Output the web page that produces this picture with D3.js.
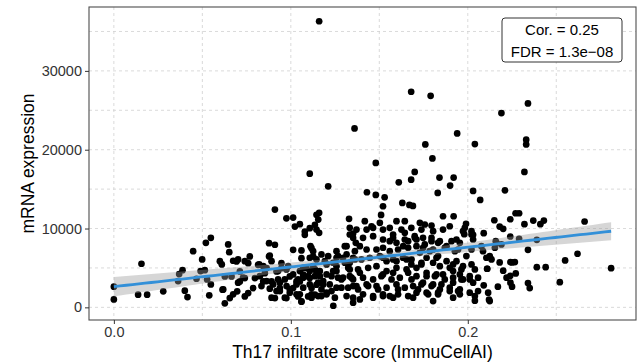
<!DOCTYPE html>
<html><head><meta charset="utf-8">
<script src="https://cdn.jsdelivr.net/npm/d3@7"></script>
<style>body{margin:0;background:#fff}</style>
</head><body><svg id="c" width="640" height="364"></svg>
<script>
// Th17 infiltrate score (ImmuCellAI)
const scoreX = [0.116,0.1107,0.168,0.179,0.234,0.219,0.136,0.194,0.176,0.204,0.233,0.233,0.148,0.180,0.170,0.168,0.161,0.184,0.192,0.232,
0.190,0.221,0.143,0.148,0.153,0.183,0.203,0.207,0.163,0.167,0.169,0.151,0.186,0.192,0.215,0.224,0.227,0.229,0.232,0.237,
0.241,0.243,0.266,0.218,0.220,0.209,0.199,0.198,0.203,0.224,0.229,0.239,0.234,0.255,0.262,0.281,0.239,0.244,0.252,0.234,
0.235,0.225,0.220,0.224,0.225,0.217,0.218,0.212,0.204,0.209,0.211,0.124,
0.0,0.0,0.0156,0.0137,0.0188,0.0279,0.0388,0.0369,0.0363,0.0401,0.0416,0.0448,0.0499,0.052,0.0548,0.049,0.0514,0.0539,0.0548,0.0599,
0.061,0.0618,0.0646,0.0652,0.0627,0.0527,0.0467,
0.0655,0.0614,0.0697,0.0674,0.0693,0.0712,0.074,0.074,0.0759,0.0768,0.0759,0.0712,0.0665,0.0627,0.0787,0.0815,0.0797,0.0844,0.0853,0.0863,
0.0877,0.091,0.091,0.0877,0.0891,0.0881,0.091,0.0938,0.0919,0.0947,0.0947,0.0975,0.1013,0.0975,0.1013,0.0994,0.1013,0.1032,0.1041,0.106,
0.1023,0.1051,0.1079,0.1079,0.1107,0.1145,0.1136,0.106,0.1088,0.1117,0.1126,0.1107,0.1117,0.1136,0.1098,0.1145,0.1145,0.1051,0.107,
0.1211,0.116,0.1155,0.1145,0.116,0.1329,0.1333,0.1352,0.1367,0.0881,0.0891,0.1111,0.1126,0.1107,0.1145,0.1173,0.1192,0.1258,0.1267,0.1305,
0.1315,0.1362,0.0702,0.074,0.0821,0.0825,0.073,0.0702,0.0674,0.0928,0.0938,0.0966,0.0994,0.1051,0.1041,0.1098,0.1136,0.1164,0.1183,0.1202,
0.1173,0.1117,0.1249,0.123,0.1258,0.1286,0.1286,0.1315,0.1333,0.1343,0.1352,0.1352,0.1362,0.1305,0.1239,0.107,0.0975,
0.1521,0.1418,0.1428,0.1503,0.1521,0.1597,0.1644,0.1681,0.1729,0.1757,0.1795,0.1738,0.1804,0.186,0.1898,0.1983,0.2021,0.1578,0.1644,0.17,
0.1559,0.1597,0.1635,0.1663,0.171,0.1757,0.1795,0.1832,0.188,0.1936,0.1729,0.1785,0.1832,0.1927,0.1936,0.1992,0.2021,0.2086,0.2153,0.1333,
0.139,0.1428,0.1484,0.1521,0.1559,0.1333,0.1446,0.1503,0.1541,0.1597,0.1654,0.1681,0.1738,0.1804,0.1842,0.1898,0.1964,0.2040,0.2134,0.2162,
0.1333,0.139,0.1465,0.1521,0.1578,0.1616,0.1663,0.171,0.1767,0.1823,0.187,0.1917,0.1964,0.2011,0.1371,0.1428,0.1484,0.1541,0.1597,0.1644,
0.1691,0.1738,0.1795,0.1842,0.1898,0.1945,0.1408,0.1465,0.1521,0.1559,0.1606,0.1663,0.171,0.1776,0.1832,0.1917,0.1955,0.139,0.1578,
0.2158,0.2077,0.219,0.2105,0.2241,0.2266,0.2109,0.2271,0.2219,0.2241,
0.106,0.1211,0.1258,0.0844,0.0928,0.0985,0.1013,0.1051,0.107,0.1107,0.1136,0.1164,0.1202,0.1239,0.1267,0.0863,0.09,0.0938,0.0976,0.0966,
0.1032,0.107,0.1107,0.1154,0.1173,0.122,0.1258,0.0919,0.0994,0.1032,0.1117,0.1154,0.1202,0.123,0.0891,0.106,0.0834,0.1126,0.1202,0.1258,0.1183,
0.1371,0.1456,0.1559,0.1625,0.1352,0.1408,0.1465,0.1521,0.1578,0.1644,0.1701,0.1315,0.1606,0.1663,0.171,0.1295,0.1352,0.1399,0.1521,0.1578,
0.1634,0.1682,0.1324,0.138,0.1437,0.1484,0.1541,0.1597,0.1654,0.171,0.1295,0.1352,0.1408,0.1512,0.1569,0.1682,0.1324,0.138,0.1437,0.1493,
0.1606,0.1719,0.1352,0.1465,0.1521,0.1691,
0.1973,0.2021,0.1747,0.1795,0.1842,0.1908,0.1955,0.203,0.1747,0.1804,0.187,0.1945,0.2124,0.1767,0.1823,0.188,0.1917,0.1738,0.1973,0.2021,
0.1917,0.1767,0.1814,0.186,0.1955,0.2011,0.2058,0.1747,0.1804,0.1851,0.1917,0.1973,0.203,0.1767,0.1832,0.1898,0.1955,0.2011,0.2058,0.2115,
0.1804,0.2040,0.2124,0.1465];
// mRNA expression
const mrnaY = [36300,16960,27350,26840,25870,24650,22700,22070,20670,20720,21270,20670,18320,18900,17180,16200,15860,16460,16460,17180,
15445,14850,14600,14260,13960,14520,14775,13630,13250,13000,12870,11730,11560,11560,11050,11180,11940,11940,10550,11015,
10550,11015,10890,10250,9960,9410,10600,9280,9200,8990,8700,8570,7300,5950,6800,4975,5100,5100,3200,3080,
2440,5700,4650,4010,2620,2620,5700,970,850,2790,4900,200,
2620,1010,5530,1610,1610,2030,4720,4220,3330,2110,1300,7130,6080,8190,8820,4600,4720,1520,2910,5860,
5440,2280,7980,7000,510,3545,3630,
1180,2240,2030,5910,5820,4560,3710,1390,1810,6460,5610,3290,3920,3920,2440,5400,3710,3290,4340,4980,
8140,7940,12400,6460,3290,2370,1180,2440,4560,4980,5610,11300,11390,1180,7300,3920,2440,3290,1390,760,
10250,10550,9620,9200,10040,11740,10470,6240,4980,7510,6460,3710,2440,1610,1390,4560,2870,3290,4140,
15360,11990,11140,9870,9450,11230,10090,9370,8190,6580,5860,7760,7130,6290,6080,6710,5860,7130,6500,7760,
6710,7130,6080,5860,5440,3960,3760,3130,1650,3545,2060,1230,2280,1650,3545,3960,4810,3960,2910,1860,
1430,1230,1230,3960,4600,3545,2490,1430,4810,3760,2700,595,6080,5660,5660,5020,4810,
12825,10930,9870,10720,9870,10930,10930,10090,10720,10510,10380,9870,9660,9870,10290,10090,9660,9240,9450,9030,
8390,8190,7760,8390,8610,7980,8390,8190,7760,8610,6920,7130,6500,7130,5860,6500,7340,7130,7560,9240,
7760,7340,7340,7560,7130,5660,6290,6500,5860,5860,6080,5440,5660,5660,5230,5020,4810,4810,6080,8190,
3960,4390,3545,4180,4390,3760,4390,3960,3960,4180,3545,3760,3545,3545,2700,2910,2700,2490,2910,2490,
2700,2910,2700,2280,2490,2060,1650,1430,1650,1430,1650,1430,1860,1650,1650,1230,1650,1010,1230,
8390,7760,7980,6290,5740,5740,4900,4300,3760,3130,
7220,6490,6290,5230,4600,5230,4180,4600,3760,4600,3960,4600,4180,4600,3760,3330,2910,3130,2700,3545,
2910,2490,2910,3130,2280,2910,2490,2060,1860,1650,1650,1430,1650,2060,1230,720,2700,5230,5440,5230,3330,
9870,10290,10090,9870,8820,8820,9030,8610,8820,8610,8820,7760,7340,7560,7760,6290,6290,6080,6290,6080,
6290,6080,5020,4810,5020,5230,4600,5020,4810,5020,3760,3545,3760,3960,3545,3545,2490,2280,2700,2280,
2280,2280,1230,1230,1430,1230,
9660,9240,8820,8820,8390,8390,8190,8610,7560,7340,7560,7340,6490,6290,6290,5860,5440,5440,5230,5440,
4600,4390,3960,4180,4180,3960,3760,3130,2910,2910,3130,3545,3130,1860,1860,2060,2280,1860,2060,1860,
800,1430,800,10090];
const xTicks = [0, 0.1, 0.2];
const xTickLabels = ["0.0", "0.1", "0.2"];
const yTicks = [0, 10000, 20000, 30000];
const xTitle = "Th17 infiltrate score (ImmuCellAI)";
const yTitle = "mRNA expression";
const statLines = ["Cor. = 0.25", "FDR = 1.3e\u221208"];

const svg = d3.select("#c");
const L = 89, R = 636, T = 7, B = 320;
const font = "'Liberation Sans', Arial, Helvetica, sans-serif";

const nPts = Math.min(scoreX.length, mrnaY.length);
const pts = d3.range(nPts).map(i => ({x: scoreX[i], y: mrnaY[i]}));
const xe = d3.extent(scoreX), ye = d3.extent(mrnaY);
const xp = (xe[1]-xe[0])*0.05, yp = (ye[1]-ye[0])*0.05;
const x = d3.scaleLinear().domain([xe[0]-xp, xe[1]+xp]).range([L, R]);
const y = d3.scaleLinear().domain([ye[0]-yp, ye[1]+yp]).range([B, T]);

// grid
const grid = svg.append("g").attr("stroke", "#d0d0d0").attr("stroke-width", 0.8).attr("stroke-dasharray", "3,3");
const xMinor = [0.05, 0.15, 0.25], yMinor = [5000, 15000, 25000, 35000];
[...xTicks, ...xMinor].forEach(v => grid.append("line").attr("x1", x(v)).attr("x2", x(v)).attr("y1", T).attr("y2", B));
[...yTicks, ...yMinor].forEach(v => grid.append("line").attr("y1", y(v)).attr("y2", y(v)).attr("x1", L).attr("x2", R));

// points
svg.append("g").selectAll("circle").data(pts).join("circle")
  .attr("cx", d => x(d.x)).attr("cy", d => y(d.y)).attr("r", 3.35).attr("fill", "#000");

// linear fit + 95% CI
const n = pts.length;
const mx = d3.mean(pts, p => p.x), my = d3.mean(pts, p => p.y);
let sxx = 0, sxy = 0;
pts.forEach(p => { sxx += (p.x-mx)**2; sxy += (p.x-mx)*(p.y-my); });
const b1 = sxy/sxx, b0 = my - b1*mx;
const sse = d3.sum(pts, p => (p.y - (b0 + b1*p.x))**2);
const s = Math.sqrt(sse/(n-2));
const tq = 1.965;
const grid80 = d3.range(81).map(i => xe[0] + (xe[1]-xe[0])*i/80);
const band = grid80.map(v => {
  const f = b0 + b1*v, se = s*Math.sqrt(1/n + (v-mx)**2/sxx);
  return {v, f, lo: f - tq*se, hi: f + tq*se};
});
svg.append("path").datum(band)
  .attr("d", d3.area().x(d => x(d.v)).y0(d => y(d.lo)).y1(d => y(d.hi)))
  .attr("fill", "#999999").attr("fill-opacity", 0.4);
svg.append("path").datum(band)
  .attr("d", d3.line().x(d => x(d.v)).y(d => y(d.f)))
  .attr("fill", "none").attr("stroke", "#3390d8").attr("stroke-width", 2.8);

// panel border
svg.append("rect").attr("x", L).attr("y", T).attr("width", R-L).attr("height", B-T)
  .attr("fill", "none").attr("stroke", "#4d4d4d").attr("stroke-width", 1.1);

// axes
const xAxis = svg.append("g").attr("transform", `translate(0,${B})`)
  .call(d3.axisBottom(x).tickValues(xTicks).tickFormat((d, i) => xTickLabels[i]).tickSize(4).tickPadding(3));
const yAxis = svg.append("g").attr("transform", `translate(${L},0)`)
  .call(d3.axisLeft(y).tickValues(yTicks).tickFormat(d3.format("d")).tickSize(4).tickPadding(3));
[xAxis, yAxis].forEach(a => {
  a.select(".domain").remove();
  a.selectAll(".tick line").attr("stroke", "#333").attr("stroke-width", 1);
  a.selectAll(".tick text").attr("fill", "#333").style("font-family", font).style("font-size", "14.5px");
});

// titles
svg.append("text").attr("x", (L+R)/2).attr("y", 358).attr("text-anchor", "middle")
  .style("font-family", font).style("font-size", "17.5px").attr("fill", "#000").text(xTitle);
svg.append("text").attr("transform", `translate(34,${(T+B)/2}) rotate(-90)`).attr("text-anchor", "middle")
  .style("font-family", font).style("font-size", "17.5px").attr("fill", "#000").text(yTitle);

// stat box
const bx = 502, by = 18, bw = 120, bh = 44;
svg.append("rect").attr("x", bx).attr("y", by).attr("width", bw).attr("height", bh).attr("rx", 3)
  .attr("fill", "#fff").attr("stroke", "#333").attr("stroke-width", 1);
statLines.forEach((t, i) => {
  svg.append("text").attr("x", bx + bw/2).attr("y", by + 16.5 + i*22).attr("text-anchor", "middle")
    .style("font-family", font).style("font-size", "15px").attr("fill", "#000").text(t);
});
</script></body></html>
